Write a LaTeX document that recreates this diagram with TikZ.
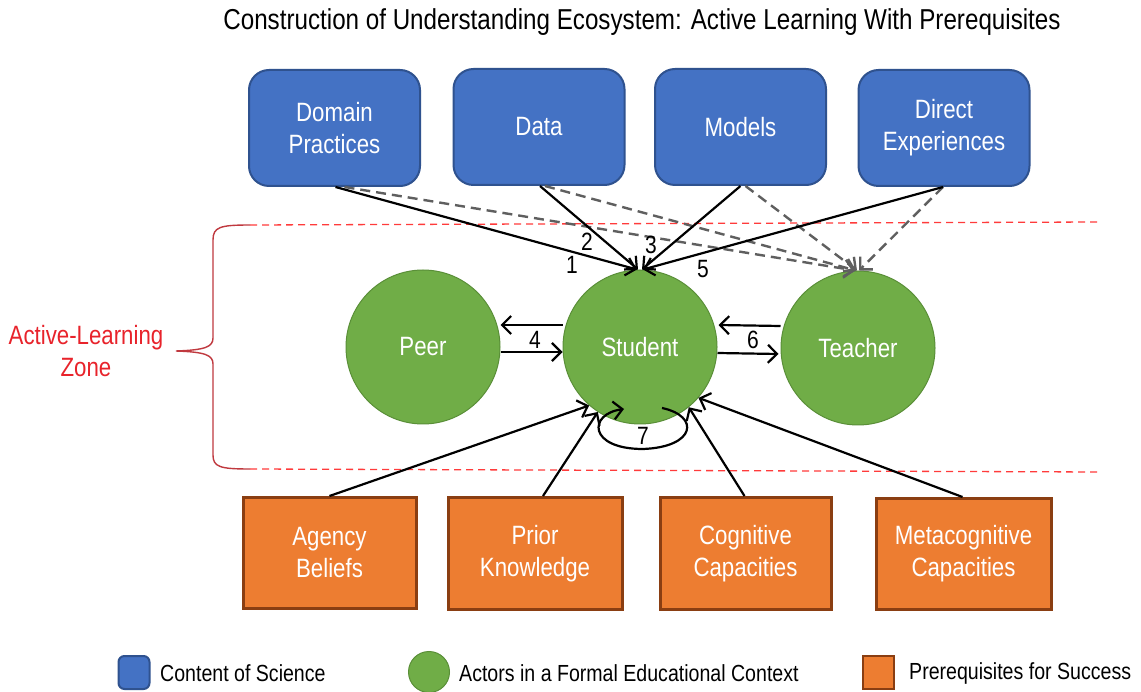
\documentclass[tikz,border=0pt]{standalone}
\usepackage{fontspec}
\setmainfont{Liberation Sans}[FakeStretch=0.84]
\usetikzlibrary{arrows.meta,calc}
\definecolor{cblue}{HTML}{4472C4}
\definecolor{cblueb}{HTML}{2F528F}
\definecolor{cgreen}{HTML}{70AD47}
\definecolor{cgreenb}{HTML}{5A8F38}
\definecolor{corange}{HTML}{ED7D31}
\definecolor{corangeb}{HTML}{8A3E12}
\definecolor{cred}{HTML}{E8232B}
\definecolor{cbrace}{HTML}{C0393F}
\definecolor{cdash}{HTML}{FF3B3B}
\definecolor{cgray}{HTML}{5F5F5F}
\tikzset{
  bigtext/.style={font=\fontsize{26.5}{32}\selectfont, text=white, align=center},
  content/.style={bigtext, draw=cblueb, line width=2pt, fill=cblue, rounded corners=20pt, minimum width=171pt, minimum height=116pt, inner sep=0pt},
  actor/.style={bigtext, circle, draw=cgreenb, line width=1pt, fill=cgreen, minimum size=154pt, inner sep=0pt},
  prereq/.style={bigtext, draw=corangeb, line width=3pt, fill=corange, minimum width=171pt, minimum height=110pt, inner sep=0pt},
  arr/.style={-{Straight Barb[length=9pt,width=18pt]}, line width=2.2pt, black},
  garr/.style={-{Straight Barb[length=9pt,width=18pt]}, line width=2.4pt, cgray, dash pattern=on 10pt off 6pt},
  num/.style={font=\fontsize{25}{28}\selectfont, text=black, inner sep=0pt},
  zoneline/.style={cdash, line width=1.3pt, dash pattern=on 7pt off 5pt},
  legtext/.style={font=\fontsize{23.3}{26}\selectfont, anchor=west, inner sep=0pt}
}
\begin{document}
\begin{tikzpicture}[x=1pt,y=-1pt]
\path[use as bounding box, fill=white] (0,0) rectangle (1141,692);

% title
\node[font=\fontsize{28.8}{32}\selectfont, inner sep=0pt] (title) at (642,22) {Construction of Understanding Ecosystem: Active Learning With Prerequisites};

% zone lines and brace
\coordinate (zt1) at (250,225);
\coordinate (zt2) at (1100,222);
\coordinate (zb1) at (250,469);
\coordinate (zb2) at (1100,472);
\draw[zoneline] (zt1) -- (zt2);
\draw[zoneline] (zb1) -- (zb2);
\draw[cbrace, line width=1.4pt] (zt1) .. controls (220,225) and (213,227) .. (213,240) -- (213,338)
  .. controls (213,347) and (205,350) .. (176,351)
  .. controls (205,352) and (213,355) .. (213,364) -- (213,455)
  .. controls (213,467) and (220,469) .. (zb1);
\node[font=\fontsize{26.5}{32}\selectfont, text=cred, align=center] (zone) at (86,351) {Active-Learning\\Zone};

% content boxes
\node[content] (dom) at (334.5,128) {Domain\\Practices};
\node[content] (data) at (539,127) {Data};
\node[content] (mod) at (740.5,127) {Models};
\node[content] (dir) at (944,128) {Direct\\Experiences};

% actors
\node[actor] (peer) at (423,347) {Peer};
\node[actor] (stu) at (640,347) {Student};
\node[actor] (tea) at (858,348) {Teacher};

% prerequisites
\node[prereq, minimum width=173pt, minimum height=111pt] (agb) at (329.5,553) {Agency\\Beliefs};
\node[prereq, minimum width=174pt, minimum height=112pt] (pk) at (535,553.5) {Prior\\Knowledge};
\node[prereq, minimum width=171pt, minimum height=112pt] (cc) at (745.5,553.5) {Cognitive\\Capacities};
\node[prereq, minimum width=175pt, minimum height=111pt] (mc) at (963.5,554) {Metacognitive\\Capacities};

% dashed content -> teacher
\draw[garr] ([xshift=10pt]dom.south) -- ([xshift=-3pt]tea.north);
\draw[garr] ([xshift=6pt]data.south) -- ([xshift=-2pt]tea.north);
\draw[garr] ([xshift=5pt]mod.south) -- ([xshift=-1pt]tea.north);
\draw[garr] ([xshift=-1pt]dir.south) -- ([xshift=1pt]tea.north);

% solid content -> student
\draw[arr] ([xshift=1pt]dom.south) -- ([xshift=-3pt]stu.north);
\draw[arr] ([xshift=1pt]data.south) -- ([xshift=-2pt]stu.north);
\draw[arr] ([xshift=0pt]mod.south) -- ([xshift=2pt]stu.north);
\draw[arr] ([xshift=-1pt]dir.south) -- ([xshift=3pt]stu.north);
\node[num] (n1) at (572,265) {1};
\node[num] (n2) at (587,242) {2};
\node[num] (n3) at (651,245) {3};
\node[num] (n5) at (703,269) {5};

% peer / teacher exchanges
\draw[arr] ([yshift=22pt]stu.west) -- ([yshift=22pt]peer.east);
\draw[arr] ([yshift=-5pt]peer.east) -- ([yshift=-5pt]stu.west);
\node[num] (n4) at (535,340) {4};
\draw[arr] ([yshift=22pt]tea.west) -- ([yshift=22pt,xshift=1pt]stu.east);
\draw[arr] ([yshift=-6pt]stu.east) -- ([yshift=-6pt,xshift=-2pt]tea.west);
\node[num] (n6) at (753,340) {6};

% self loop
\coordinate (ls) at ($(stu.center)+(22,61)$);
\coordinate (le) at ($(stu.center)+(-16,62)$);
\draw[arr] (ls) .. controls (700,416) and (696,447) .. (643,449)
  .. controls (588,449) and (588,414) .. (le);
\node[num] (n7) at (643,436) {7};

% prerequisites -> student
\draw[arr] (agb.north) -- (stu.-131);
\draw[arr] ([xshift=8pt]pk.north) -- (stu.-123);
\draw[arr] ([xshift=-1pt]cc.north) -- (stu.-51);
\draw[arr] ([xshift=-1pt]mc.north) -- (stu.-41);

% legend
\node[draw=cblueb, line width=2pt, fill=cblue, rounded corners=6pt, minimum width=31pt, minimum height=33pt, inner sep=0pt] (lb) at (134,672.5) {};
\node[legtext] (lbt) at (160,673) {Content of Science};
\node[circle, draw=cgreenb, line width=1pt, fill=cgreen, minimum size=41pt, inner sep=0pt] (lg) at (429,672) {};
\node[legtext] (lgt) at (459,673) {Actors in a Formal Educational Context};
\node[draw=corangeb, line width=2.5pt, fill=corange, minimum width=31pt, minimum height=33pt, inner sep=0pt] (lo) at (878.5,672.5) {};
\node[legtext] (lot) at (909,673) {Prerequisites for Success};
\end{tikzpicture}
\end{document}
